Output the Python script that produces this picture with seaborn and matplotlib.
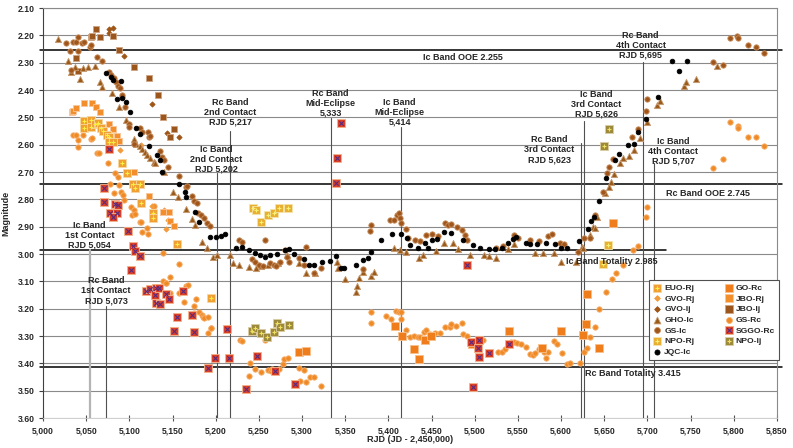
import numpy as np
import pandas as pd
import matplotlib
matplotlib.use('Agg')
import matplotlib.pyplot as plt
from matplotlib.ticker import MultipleLocator, FuncFormatter
import seaborn as sns

# (RJD, magnitude) per observer / band
GS_RC = [(5035, 2.565), (5038, 2.565), (5040, 2.607), (5041, 2.583), (5046, 2.565), (5056, 2.580),
         (5057, 2.577), (5063, 2.631), (5065, 2.632), (5075, 2.668), (5078, 2.745), (5082, 2.778),
         (5083, 2.705), (5087, 2.717), (5088, 2.748), (5090, 2.774), (5093, 2.784), (5094, 2.803),
         (5102, 2.829), (5103, 2.857), (5105, 2.839), (5106, 2.855), (5112, 2.884), (5114, 2.882),
         (5115, 2.918), (5120, 2.906), (5122, 2.928), (5127, 2.870), (5128, 2.824), (5139, 2.995),
         (5139, 3.097), (5142, 3.105), (5143, 3.105), (5147, 3.083), (5147, 3.144), (5157, 3.142),
         (5158, 3.037), (5163, 3.177), (5166, 3.117), (5168, 3.114), (5175, 3.190), (5175, 3.217),
         (5177, 3.166), (5181, 3.211), (5184, 3.223), (5185, 3.230), (5186, 3.235), (5191, 3.231),
         (5191, 3.290), (5194, 3.270), (5195, 3.272), (5228, 3.316), (5231, 3.317), (5239, 3.447),
         (5240, 3.400), (5246, 3.422), (5253, 3.430), (5257, 3.316), (5260, 3.425), (5264, 3.427),
         (5265, 3.422), (5273, 3.422), (5278, 3.404), (5279, 3.384), (5284, 3.382), (5297, 3.418),
         (5298, 3.464), (5302, 3.425), (5305, 3.470), (5309, 3.451), (5314, 3.451), (5322, 3.483),
         (5380, 3.211), (5380, 3.251), (5397, 3.227), (5403, 3.238), (5409, 3.209), (5412, 3.213),
         (5414, 3.239), (5415, 3.211), (5420, 3.279), (5425, 3.305), (5430, 3.299), (5434, 3.302),
         (5437, 3.305), (5441, 3.284), (5444, 3.278), (5448, 3.293), (5454, 3.288), (5460, 3.288),
         (5466, 3.268), (5471, 3.266), (5473, 3.256), (5478, 3.264), (5485, 3.254), (5486, 3.294),
         (5491, 3.299), (5509, 3.315), (5527, 3.360), (5532, 3.357), (5535, 3.349), (5542, 3.321),
         (5546, 3.321), (5549, 3.325), (5553, 3.329), (5559, 3.339), (5564, 3.366), (5567, 3.370),
         (5570, 3.361), (5574, 3.349), (5580, 3.357), (5583, 3.382), (5585, 3.357), (5592, 3.317),
         (5595, 3.329), (5601, 3.364), (5607, 3.404), (5610, 3.400), (5622, 3.400), (5627, 3.357),
         (5630, 3.345), (5634, 3.302), (5639, 3.266), (5644, 3.203), (5652, 3.140), (5659, 3.093),
         (5664, 3.068), (5672, 3.040), (5683, 2.985), (5689, 2.970), (5698, 2.864), (5700, 2.827),
         (5776, 2.687), (5787, 2.653), (5796, 2.518), (5805, 2.531), (5805, 2.540), (5816, 2.571),
         (5826, 2.571), (5835, 2.605)]
GVO_RJ = [(5089, 2.621), (5113, 2.600), (5126, 2.824), (5140, 2.840), (5143, 2.910), (5145, 2.876)]
GO_RC = [(5297, 3.357), (5304, 3.355), (5408, 3.263), (5416, 3.300), (5430, 3.348), (5436, 3.384),
         (5442, 3.315), (5449, 3.300), (5497, 3.330), (5540, 3.281), (5578, 3.345), (5600, 3.282),
         (5625, 3.297), (5629, 3.257), (5630, 3.148), (5644, 3.345), (5660, 2.885)]
JBO_RJ = [(5034, 2.479), (5035, 2.476), (5038, 2.467), (5048, 2.446), (5057, 2.446), (5061, 2.463),
          (5066, 2.479), (5077, 2.524), (5081, 2.544), (5086, 2.568), (5088, 2.586), (5105, 2.701),
          (5123, 2.788), (5139, 2.845), (5146, 2.845), (5147, 2.878), (5152, 2.897)]
EUO_RJ = [(5048, 2.513), (5048, 2.540), (5056, 2.510), (5056, 2.537), (5060, 2.524), (5064, 2.520),
          (5067, 2.540), (5070, 2.550), (5074, 2.565), (5076, 2.573), (5076, 2.589), (5081, 2.589),
          (5091, 2.666), (5097, 2.703), (5104, 2.744), (5112, 2.745), (5107, 2.760), (5114, 2.815),
          (5127, 2.851), (5127, 2.870), (5155, 2.965), (5195, 3.162)]
NPO_RJ = [(5243, 2.833), (5247, 2.839), (5253, 2.882), (5260, 2.857), (5268, 2.849), (5273, 2.833),
          (5284, 2.831), (5654, 2.967), (5649, 3.037)]
NPO_IJ = [(5242, 3.281), (5246, 3.269), (5253, 3.288), (5259, 3.303), (5268, 3.284), (5271, 3.254),
          (5274, 3.266), (5285, 3.258), (5655, 2.543), (5650, 2.604)]
SGGO_RC = [(5077, 2.617), (5071, 2.760), (5071, 2.808), (5083, 2.817), (5087, 2.820), (5078, 2.851),
           (5086, 2.849), (5081, 2.866), (5098, 2.915), (5104, 2.971), (5106, 2.989), (5112, 3.007),
           (5102, 3.059), (5119, 3.134), (5124, 3.129), (5131, 3.123), (5130, 3.150), (5134, 3.126),
           (5142, 3.146), (5146, 3.165), (5131, 3.178), (5135, 3.183), (5162, 3.135), (5155, 3.229),
           (5172, 3.223), (5152, 3.282), (5175, 3.284), (5213, 3.276), (5199, 3.382), (5215, 3.382),
           (5191, 3.418), (5248, 3.372), (5269, 3.427), (5235, 3.495), (5292, 3.477), (5345, 2.522),
           (5340, 2.650), (5339, 2.739), (5491, 3.040), (5496, 3.321), (5505, 3.315), (5504, 3.345),
           (5505, 3.376), (5516, 3.361), (5540, 3.329), (5498, 3.485)]
GVO_IJ = [(5076, 2.176), (5081, 2.175), (5077, 2.193), (5094, 2.274), (5126, 2.451), (5144, 2.556),
          (5157, 2.571)]
JBO_IJ = [(5038, 2.282), (5041, 2.329), (5056, 2.205), (5057, 2.203), (5061, 2.178), (5066, 2.207),
          (5081, 2.203), (5088, 2.254), (5105, 2.317), (5123, 2.357), (5133, 2.418), (5139, 2.498),
          (5147, 2.571), (5152, 2.544)]
GHO_IC = [(5017, 2.215), (5029, 2.295), (5032, 2.333), (5037, 2.315), (5043, 2.360), (5046, 2.321),
          (5052, 2.315), (5060, 2.312), (5066, 2.369), (5068, 2.389), (5080, 2.412), (5088, 2.461),
          (5096, 2.511), (5105, 2.578), (5108, 2.598), (5112, 2.605), (5115, 2.615), (5118, 2.625),
          (5121, 2.637), (5124, 2.648), (5128, 2.662), (5130, 2.668), (5140, 2.700), (5151, 2.774),
          (5156, 2.790), (5166, 2.835), (5172, 2.872), (5176, 2.894), (5184, 2.955), (5190, 2.979),
          (5197, 3.010), (5202, 3.004), (5216, 3.004), (5220, 3.034), (5227, 3.040), (5238, 3.047),
          (5247, 3.052), (5252, 3.045), (5261, 3.040), (5272, 3.034), (5282, 3.004), (5296, 3.034),
          (5305, 3.068), (5315, 3.071), (5340, 3.031), (5342, 3.052), (5350, 3.091), (5363, 3.138),
          (5364, 3.117), (5366, 3.089), (5371, 3.065), (5380, 3.081), (5383, 3.065), (5407, 2.977),
          (5413, 2.985), (5420, 2.992), (5435, 3.016), (5440, 3.004), (5455, 2.988), (5464, 2.961),
          (5475, 2.961), (5481, 2.983), (5495, 3.004), (5511, 3.004), (5517, 3.007), (5525, 3.016),
          (5538, 2.983), (5546, 2.965), (5570, 2.995), (5579, 2.995), (5592, 2.995), (5600, 3.028),
          (5617, 3.028), (5624, 2.973), (5625, 2.979), (5633, 2.930), (5637, 2.900), (5639, 2.906),
          (5642, 2.864), (5651, 2.778), (5655, 2.754), (5658, 2.735), (5661, 2.708), (5668, 2.666),
          (5672, 2.650), (5679, 2.643), (5684, 2.620), (5691, 2.577), (5700, 2.516), (5711, 2.455),
          (5715, 2.439), (5742, 2.385), (5745, 2.370), (5756, 2.360), (5781, 2.312)]
GS_IC = [(5027, 2.229), (5031, 2.256), (5032, 2.327), (5035, 2.225), (5038, 2.223), (5040, 2.256),
         (5041, 2.205), (5045, 2.229), (5048, 2.226), (5055, 2.241), (5056, 2.235), (5063, 2.280),
         (5068, 2.293), (5076, 2.335), (5079, 2.345), (5082, 2.355), (5085, 2.370), (5087, 2.385),
         (5089, 2.394), (5091, 2.424), (5092, 2.418), (5095, 2.461), (5100, 2.526), (5100, 2.537),
         (5105, 2.599), (5112, 2.540), (5115, 2.553), (5122, 2.555), (5123, 2.571), (5124, 2.568),
         (5135, 2.622), (5138, 2.644), (5140, 2.655), (5145, 2.680), (5158, 2.715), (5166, 2.754),
         (5167, 2.750), (5173, 2.788), (5175, 2.806), (5178, 2.815), (5180, 2.849), (5183, 2.857),
         (5186, 2.870), (5190, 2.886), (5193, 2.898), (5227, 2.949), (5230, 2.955), (5242, 3.020),
         (5246, 3.030), (5250, 3.040), (5255, 3.045), (5257, 2.949), (5263, 3.034), (5267, 3.040),
         (5270, 3.045), (5275, 3.028), (5280, 2.985), (5282, 3.012), (5285, 3.030), (5296, 3.016),
         (5302, 3.040), (5305, 2.973), (5314, 3.068), (5322, 3.052), (5370, 3.056), (5379, 2.916),
         (5380, 2.894), (5402, 2.874), (5406, 2.874), (5410, 2.857), (5412, 2.851), (5413, 2.870),
         (5415, 2.888), (5420, 2.910), (5423, 2.943), (5431, 2.949), (5437, 2.953), (5443, 2.931),
         (5450, 2.927), (5457, 2.934), (5466, 2.886), (5469, 2.894), (5473, 2.890), (5479, 2.900),
         (5485, 2.912), (5489, 2.931), (5491, 2.949), (5525, 2.979), (5533, 2.971), (5545, 2.932),
         (5550, 2.943), (5564, 2.949), (5574, 2.952), (5585, 2.934), (5590, 2.925), (5599, 2.959),
         (5603, 2.965), (5619, 2.992), (5627, 2.940), (5634, 2.940), (5639, 2.857), (5648, 2.772),
         (5653, 2.703), (5656, 2.681), (5660, 2.654), (5682, 2.573), (5689, 2.543), (5698, 2.477),
         (5700, 2.433), (5776, 2.298), (5787, 2.309), (5796, 2.211), (5804, 2.202), (5805, 2.210),
         (5816, 2.235), (5826, 2.243), (5835, 2.266)]
JQC_IC = [(5073, 2.337), (5079, 2.351), (5081, 2.363), (5090, 2.366), (5086, 2.434), (5092, 2.430),
          (5096, 2.443), (5101, 2.479), (5108, 2.540), (5112, 2.561), (5123, 2.604), (5132, 2.639),
          (5136, 2.656), (5138, 2.700), (5157, 2.744), (5164, 2.772), (5166, 2.790), (5176, 2.846),
          (5181, 2.884), (5193, 2.939), (5200, 2.937), (5206, 2.935), (5211, 2.928), (5223, 2.977),
          (5231, 2.973), (5239, 2.985), (5245, 2.998), (5251, 3.004), (5257, 3.010), (5263, 3.004),
          (5271, 3.000), (5280, 2.985), (5285, 2.983), (5291, 3.001), (5302, 3.018), (5308, 3.040),
          (5314, 3.040), (5323, 3.028), (5332, 3.025), (5339, 3.007), (5345, 3.050), (5349, 3.052),
          (5362, 3.040), (5370, 3.022), (5376, 3.013), (5380, 2.994), (5391, 2.949), (5404, 2.925),
          (5415, 2.928), (5422, 2.940), (5425, 2.967), (5434, 2.979), (5442, 2.961), (5446, 2.979),
          (5451, 2.949), (5456, 2.946), (5464, 2.921), (5472, 2.922), (5486, 2.949), (5498, 2.967),
          (5506, 2.977), (5516, 2.983), (5523, 2.982), (5532, 2.977), (5538, 2.958), (5544, 2.946),
          (5548, 2.937), (5559, 2.961), (5564, 2.965), (5572, 2.964), (5582, 2.959), (5593, 2.965),
          (5600, 2.979), (5607, 2.979), (5621, 2.953), (5631, 2.909), (5635, 2.878), (5638, 2.864),
          (5644, 2.805), (5652, 2.722), (5662, 2.657), (5667, 2.634), (5678, 2.601), (5684, 2.597),
          (5689, 2.553), (5698, 2.506), (5712, 2.424), (5728, 2.294), (5737, 2.329), (5746, 2.293)]

# reference levels (out-of-eclipse / totality)
REF_LEVELS = [2.255, 2.745, 2.985, 3.415]
REF_LABELS = ['Ic Band OOE 2.255', 'Rc Band OOE 2.745', 'Ic Band Totality 2.985', 'Rc Band Totality 3.415']

# contact points
CONTACT_RJD = [5054, 5073, 5202, 5217, 5333, 5414, 5623, 5626, 5695, 5707]
CONTACT_LABELS = ['Ic Band\n1st Contact\nRJD 5,054', 'Rc Band\n1st Contact\nRJD 5,073',
                  'Ic Band\n2nd Contact\nRJD 5,202', 'Rc Band\n2nd Contact\nRJD 5,217',
                  'Rc Band\nMid-Eclipse\n5,333', 'Ic Band\nMid-Eclipse\n5,414',
                  'Rc Band\n3rd Contact\nRJD 5,623', 'Ic Band\n3rd Contact\nRJD 5,626',
                  'Rc Band\n4th Contact\nRJD 5,695', 'Ic Band\n4th Contact\nRJD 5,707']

sns.set_style('white')
plt.rcParams['font.family'] = ['Liberation Sans', 'DejaVu Sans']
plt.rcParams['font.weight'] = 'bold'

fig = plt.figure(figsize=(7.93, 4.48), dpi=100)
ax = fig.add_axes([43 / 793, 30 / 448, 734 / 793, 410 / 448])

brown = '#9e5516'
# label, data, marker, size, face, edge, overlay marker, overlay colour
styles = [
    ('GS-Rc', GS_RC, 'o', 15, '#f08a24', '#f6b070', None, None),
    ('GVO-Rj', GVO_RJ, 'D', 7, '#f39a3a', '#f39a3a', None, None),
    ('GO-Rc', GO_RC, 's', 26, '#f07d1c', '#f8c08c', None, None),
    ('JBO-Rj', JBO_RJ, 's', 22, '#f28f2c', '#f8c69a', None, None),
    ('EUO-Rj', EUO_RJ, 's', 26, '#f0a032', '#f8d8a0', '+', '#f8f040'),
    ('NPO-Rj', NPO_RJ, 's', 26, '#e8b032', '#f4e4a8', '+', '#f8f070'),
    ('NPO-Ij', NPO_IJ, 's', 26, '#9c8a3a', '#dccca0', '+', '#f0e060'),
    ('SGGO-Rc', SGGO_RC, 's', 28, '#d8402a', '#f4b48c', 'x', '#5a2a80'),
    ('GVO-Ij', GVO_IJ, 'D', 7, brown, brown, None, None),
    ('JBO-Ij', JBO_IJ, 's', 24, '#9a561c', '#d0a482', None, None),
    ('GHO-Ic', GHO_IC, '^', 20, '#9a5a1a', '#c89a70', None, None),
    ('GS-Ic', GS_IC, 'o', 15, '#a0561a', '#c89060', None, None),
    ('JQC-Ic', JQC_IC, 'o', 11, '#000000', '#000000', None, None),
]

handles = {}
for label, pts, mk, size, face, edge, over, over_col in styles:
    df = pd.DataFrame(pts, columns=['rjd', 'mag'])
    sns.scatterplot(data=df, x='rjd', y='mag', marker=mk, s=size, color=face,
                    edgecolor=edge, linewidth=0.6, ax=ax, legend=False, zorder=3)
    h = ax.collections[-1]
    if over is not None:
        sns.scatterplot(data=df, x='rjd', y='mag', marker=over, s=10, color=over_col,
                        linewidth=0.8, ax=ax, legend=False, zorder=3)
        h = (h, ax.collections[-1])
    handles[label] = h

ax.set_xlim(5000, 5850)
ax.set_ylim(3.60, 2.10)

# reference lines
ref_ends = [5856, 5856, 5722, 5856]
ref_text = [(5486, 2.282), (5770, 2.778), (5659, 3.026), (5683, 3.439)]
for lvl, lab, xe, (tx, ty) in zip(REF_LEVELS, REF_LABELS, ref_ends, ref_text):
    ax.plot([4996, xe], [lvl, lvl], color='black', lw=1.1, clip_on=False, zorder=2)
    ax.text(tx, ty, lab, ha='center', va='center', fontsize=6.5, fontweight='bold', zorder=4)

# contact markers
text_pos = [(5054, 2.985), (5073, 3.187), (5201, 2.707), (5217, 2.535), (5333, 2.502),
            (5413, 2.535), (5586, 2.671), (5641, 2.506), (5692, 2.290), (5730, 2.678)]
line_top = [2.985, 3.190, 2.705, 2.550, 2.503, 2.537, 2.594, 2.514, 2.296, 2.668]
for rjd, lab, (tx, ty), top in zip(CONTACT_RJD, CONTACT_LABELS, text_pos, line_top):
    col, lw = ('#b4b4b4', 1.6) if rjd == 5054 else ('#505050', 0.8)
    ax.plot([rjd, rjd], [top, 3.60], color=col, lw=lw, zorder=2)
    ax.text(tx, ty, lab, ha='center', va='bottom', fontsize=6.5, fontweight='bold',
            linespacing=1.12, zorder=4)

# axes styling
ax.yaxis.set_major_locator(MultipleLocator(0.1))
ax.yaxis.set_minor_locator(MultipleLocator(0.02))
ax.xaxis.set_major_locator(MultipleLocator(50))
ax.xaxis.set_minor_locator(MultipleLocator(5))
ax.yaxis.set_major_formatter(FuncFormatter(lambda v, p: f'{v:.2f}'))
ax.xaxis.set_major_formatter(FuncFormatter(lambda v, p: f'{int(round(v)):,}'))
ax.yaxis.grid(True, color='#8a8a8a', lw=0.8)
ax.xaxis.grid(False)
ax.set_axisbelow(True)
ax.tick_params(axis='y', which='major', direction='out', length=3, width=0.8, color='#404040',
               labelsize=6.2, pad=3)
ax.tick_params(axis='y', which='minor', direction='out', length=2, width=0.6, color='#606060')
ax.tick_params(axis='x', which='major', direction='inout', length=4, width=0.8, color='#505050',
               labelsize=6.2, pad=4)
ax.tick_params(axis='x', which='minor', direction='inout', length=3, width=0.6, color='#707070')
ax.tick_params(left=True, bottom=True)
for lab in ax.get_xticklabels() + ax.get_yticklabels():
    lab.set_fontweight('bold')
ax.spines['left'].set_color('#404040')
ax.spines['left'].set_linewidth(0.8)
ax.spines['bottom'].set_color('#c8c8c8')
ax.spines['bottom'].set_linewidth(0.6)
ax.spines['right'].set_color('#8a8a8a')
ax.spines['right'].set_linewidth(0.8)
ax.spines['top'].set_color('#8a8a8a')
ax.spines['top'].set_linewidth(0.8)

ax.set_xlabel('RJD (JD - 2,450,000)', fontsize=6.5, fontweight='bold', labelpad=0)
ax.set_ylabel('Magnitude', fontsize=6.5, fontweight='bold', labelpad=5)

order = ['EUO-Rj', 'GVO-Rj', 'GVO-Ij', 'GHO-Ic', 'GS-Ic', 'NPO-Rj', 'JQC-Ic',
         'GO-Rc', 'JBO-Rj', 'JBO-Ij', 'GS-Rc', 'SGGO-Rc', 'NPO-Ij']
leg = ax.legend([handles[k] for k in order], order, ncol=2, loc='upper right',
                bbox_to_anchor=(1.003, 0.337), fontsize=6.1, frameon=True, fancybox=False,
                edgecolor='#505050', framealpha=1, borderpad=0.5, labelspacing=0.32,
                handlelength=0.9, handletextpad=0.35, columnspacing=3.6, borderaxespad=0,
                markerscale=1.1)
leg.get_frame().set_linewidth(0.8)
for t in leg.get_texts():
    t.set_fontweight('bold')
leg.set_zorder(5)

fig.savefig('out.png', dpi=100)
